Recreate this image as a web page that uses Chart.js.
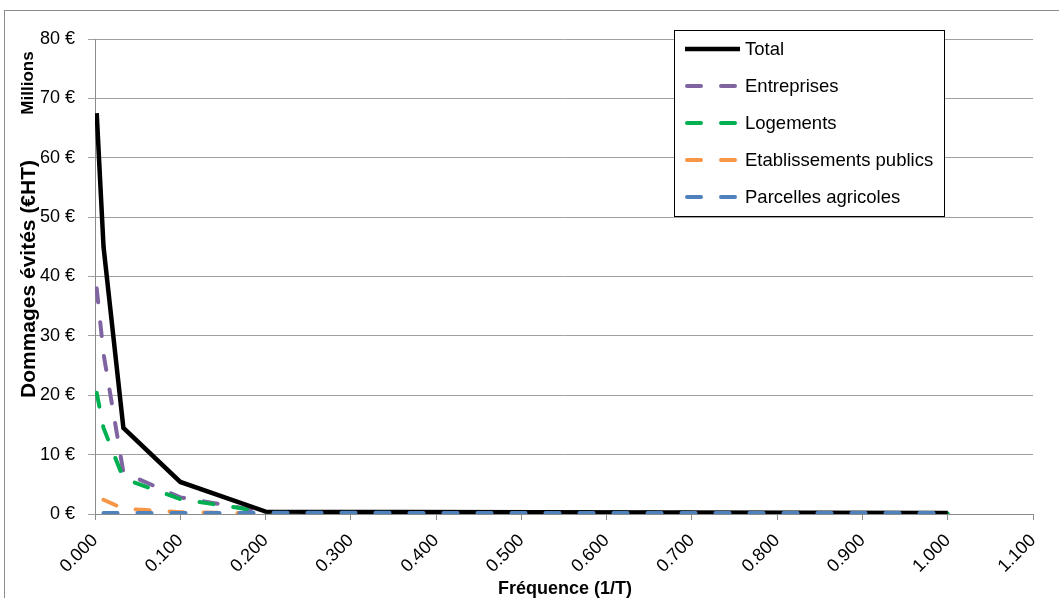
<!DOCTYPE html>
<html>
<head>
<meta charset="utf-8">
<script src="https://cdn.jsdelivr.net/npm/chart.js@4/dist/chart.umd.min.js"></script>
<style>
  html, body { margin: 0; padding: 0; background: #fff; }
  canvas { display: block; }
</style>
</head>
<body>
<canvas id="c" width="1059" height="598"></canvas>
<script>
// ---- Data ----
const frequencies   = [0.002, 0.01, 0.0333, 0.1, 0.2, 1.0];
const totalValues   = [67.5, 45.0, 14.5, 5.4, 0.4, 0.15];
const entreprises   = [38.0, 27.0, 7.0, 2.8, 0.35, 0.1];
const logements     = [20.4, 14.5, 6.0, 2.5, 0.35, 0.1];
const etablissements= [null, 2.4, 0.9, 0.3, 0.1, 0.1];
const parcelles     = [null, 0.15, 0.15, 0.15, 0.2, 0.15];

const seriesNames = ['Total', 'Entreprises', 'Logements', 'Etablissements publics', 'Parcelles agricoles'];
const seriesColors = ['#000000', '#8064A2', '#00B050', '#F79646', '#4F81BD'];
// drawing order (lower = drawn on top)
const seriesOrder = [1, 4, 3, 2, 0];

const yTicks = [0, 10, 20, 30, 40, 50, 60, 70, 80];
const xTicks = [0, 0.1, 0.2, 0.3, 0.4, 0.5, 0.6, 0.7, 0.8, 0.9, 1.0, 1.1];

const yTitle = 'Dommages évités (€HT)';
const yUnit = 'Millions';
const xTitle = 'Fréquence (1/T)';

function toPoints(vals) {
  const pts = [];
  vals.forEach((v, i) => { if (v !== null) pts.push({ x: frequencies[i], y: v }); });
  return pts;
}

const allSeries = [totalValues, entreprises, logements, etablissements, parcelles];
const datasets = allSeries.map((vals, i) => ({
  label: seriesNames[i],
  data: toPoints(vals),
  borderColor: seriesColors[i],
  backgroundColor: seriesColors[i],
  borderWidth: i === 0 ? 4.5 : 4,
  borderDash: i === 0 ? [] : [14, 20],
  borderCapStyle: i === 0 ? 'butt' : 'round',
  borderJoinStyle: 'miter',
  pointRadius: 0,
  tension: 0,
  fill: false,
  order: seriesOrder[i]
}));

const FONT = '"Liberation Sans", Arial, sans-serif';

const decorPlugin = {
  id: 'decor',
  beforeDraw(chart) {
    const ctx = chart.ctx;
    ctx.save();
    ctx.fillStyle = '#fff';
    ctx.fillRect(0, 0, chart.width, chart.height);
    ctx.strokeStyle = '#8c8c8c';
    ctx.lineWidth = 1;
    ctx.strokeRect(4.5, 10.5, 2000, 2000);
    ctx.restore();
  },
  afterDraw(chart) {
    const ctx = chart.ctx;
    ctx.save();
    // Axis titles
    ctx.fillStyle = '#000';
    ctx.font = 'bold 21px ' + FONT;
    ctx.textAlign = 'center';
    ctx.textBaseline = 'alphabetic';
    ctx.save();
    ctx.translate(35, 279);
    ctx.rotate(-Math.PI / 2);
    ctx.fillText(yTitle, 0, 0);
    ctx.restore();

    ctx.font = 'bold 17px ' + FONT;
    ctx.save();
    ctx.translate(33, 83);
    ctx.rotate(-Math.PI / 2);
    ctx.fillText(yUnit, 0, 0);
    ctx.restore();

    ctx.font = 'bold 18px ' + FONT;
    ctx.textBaseline = 'alphabetic';
    ctx.fillText(xTitle, 565, 594);

    // Legend box
    const lx = 674.5, ly = 30.5, lw = 270, lh = 186;
    ctx.fillStyle = '#fff';
    ctx.fillRect(lx, ly, lw, lh);
    ctx.strokeStyle = '#000';
    ctx.lineWidth = 1;
    ctx.strokeRect(lx, ly, lw, lh);
    chart.data.datasets.forEach((ds, i) => {
      const y = 49 + i * 37;
      ctx.save();
      ctx.strokeStyle = ds.borderColor;
      ctx.lineWidth = ds.borderWidth;
      ctx.lineCap = ds.borderCapStyle;
      ctx.setLineDash(ds.borderDash);
      ctx.beginPath();
      if (ds.borderDash.length) {
        ctx.moveTo(687, y); ctx.lineTo(737, y);
      } else {
        ctx.moveTo(685, y); ctx.lineTo(740, y);
      }
      ctx.stroke();
      ctx.restore();
      ctx.fillStyle = '#000';
      ctx.font = '18.5px ' + FONT;
      ctx.textAlign = 'left';
      ctx.textBaseline = 'middle';
      ctx.fillText(ds.label, 745, y + 1);
    });
    ctx.restore();
  }
};

new Chart(document.getElementById('c'), {
  type: 'line',
  data: { datasets },
  options: {
    responsive: false,
    animation: false,
    events: [],
    layout: { padding: { top: 39, right: 26, left: 0, bottom: 0 } },
    plugins: { legend: { display: false }, tooltip: { enabled: false }, title: { display: false } },
    scales: {
      x: {
        type: 'linear',
        min: xTicks[0],
        max: xTicks[xTicks.length - 1],
        afterFit(s) { s.height = 84; },
        afterBuildTicks(s) { s.ticks = xTicks.map(v => ({ value: v })); },
        grid: { drawOnChartArea: false, drawTicks: true, tickLength: 6, color: '#8c8c8c' },
        border: { display: true, color: '#8c8c8c', width: 1 },
        ticks: {
          minRotation: 45, maxRotation: 45, padding: 10,
          color: '#000',
          font: { family: FONT, size: 18 },
          callback: v => Number(v).toFixed(3)
        }
      },
      y: {
        type: 'linear',
        min: yTicks[0],
        max: yTicks[yTicks.length - 1],
        afterFit(s) { s.width = 95; },
        afterBuildTicks(s) { s.ticks = yTicks.map(v => ({ value: v })); },
        grid: { drawOnChartArea: true, drawTicks: true, tickLength: 7, color: '#a0a0a0' },
        border: { display: true, color: '#8c8c8c', width: 1 },
        ticks: {
          padding: 13,
          color: '#000',
          font: { family: FONT, size: 18 },
          callback: v => v + ' €'
        }
      }
    }
  },
  plugins: [decorPlugin]
});
</script>
</body>
</html>
